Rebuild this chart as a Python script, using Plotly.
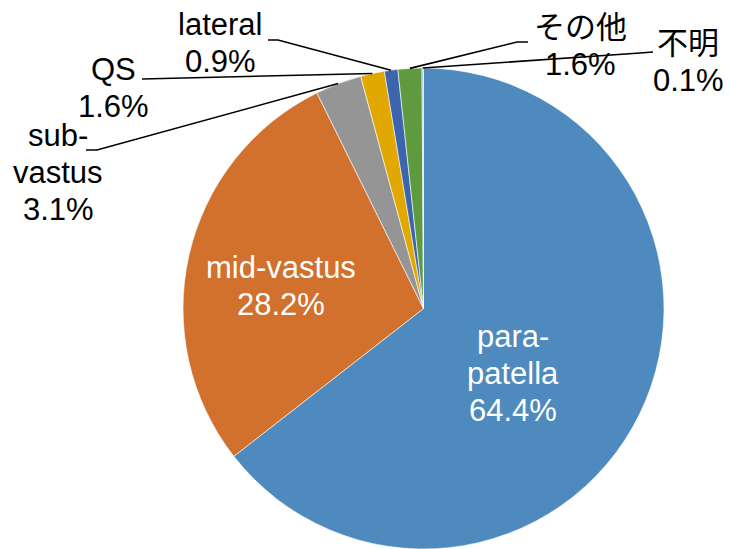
import math
import plotly.graph_objects as go

# ---- data ----
labels = ["para-patella", "mid-vastus", "sub-vastus", "QS", "lateral", "その他", "不明"]
label_lines = [["para-", "patella"], ["mid-vastus"], ["sub-", "vastus"], ["QS"], ["lateral"], ["その他"], ["不明"]]
values = [64.4, 28.2, 3.1, 1.6, 0.9, 1.6, 0.1]
colors = ["#4E8ABE", "#D2702D", "#959595", "#E0A800", "#3D65AE", "#5F9A3F", "#9BBAE0"]

W, H = 730, 549
CX, CY, R = 423.5, 309.0, 241.0  # pie centre/radius in pixels (layout)
LINE_H = 37  # label line spacing (px)

# label block centres (px) – layout
label_pos = {
    "para-patella": (513, 373),
    "mid-vastus": (281, 286),
    "sub-vastus": (58, 172),
    "QS": (113, 88),
    "lateral": (220, 43),
    "その他": (580, 46),
    "不明": (688, 62),
}
inside = {"para-patella", "mid-vastus"}
leader = {
    "sub-vastus": [(86, 150), (97, 150)],
    "QS": [(142, 79)],
    "lateral": [(268, 40), (278, 40)],
    "その他": [(528, 42), (517, 42)],
    "不明": [(653, 52), (640, 53)],
}

FONT = "Arial, 'Liberation Sans', 'Noto Sans CJK JP', sans-serif"

def px(x):
    return x / W

def py(y):
    return 1 - y / H

fig = go.Figure(go.Pie(
    labels=labels,
    values=values,
    sort=False,
    direction="clockwise",
    rotation=0,
    textinfo="none",
    hoverinfo="label+value",
    marker=dict(colors=colors, line=dict(color="white", width=0.6)),
    domain=dict(x=[(CX - R) / W, (CX + R) / W], y=[0, (H - CY + R) / H]),
    showlegend=False,
))

total = sum(values)
annotations = []
shapes = []
cum = 0.0
for lab, lines, v in zip(labels, label_lines, values):
    frac_mid = (cum + v / 2) / total
    cum += v
    all_lines = lines + [f"{v:.1f}%"]
    lx, ly = label_pos[lab]
    col = "white" if lab in inside else "black"
    n = len(all_lines)
    for i, t in enumerate(all_lines):
        yy = ly + (i - (n - 1) / 2) * LINE_H
        annotations.append(dict(
            x=px(lx), y=py(yy), xref="paper", yref="paper",
            text=t, showarrow=False,
            xanchor="center", yanchor="middle", align="center",
            font=dict(family=FONT, size=31, color=col),
        ))
    if lab in leader:
        ang = 2 * math.pi * frac_mid
        ex = CX + R * math.sin(ang)
        ey = CY - R * math.cos(ang)
        pts = leader[lab] + [(ex, ey)]
        path = "M " + " L ".join(f"{px(a)},{py(b)}" for a, b in pts)
        shapes.append(dict(type="path", xref="paper", yref="paper", path=path,
                           line=dict(color="black", width=1.6)))

fig.update_layout(
    width=W, height=H,
    margin=dict(l=0, r=0, t=0, b=0),
    paper_bgcolor="white",
    plot_bgcolor="white",
    annotations=annotations,
    shapes=shapes,
)

fig.write_html(
    "out.html",
    config={"displayModeBar": False},
    post_script="document.body.style.margin='0';document.body.style.overflow='hidden';",
)
